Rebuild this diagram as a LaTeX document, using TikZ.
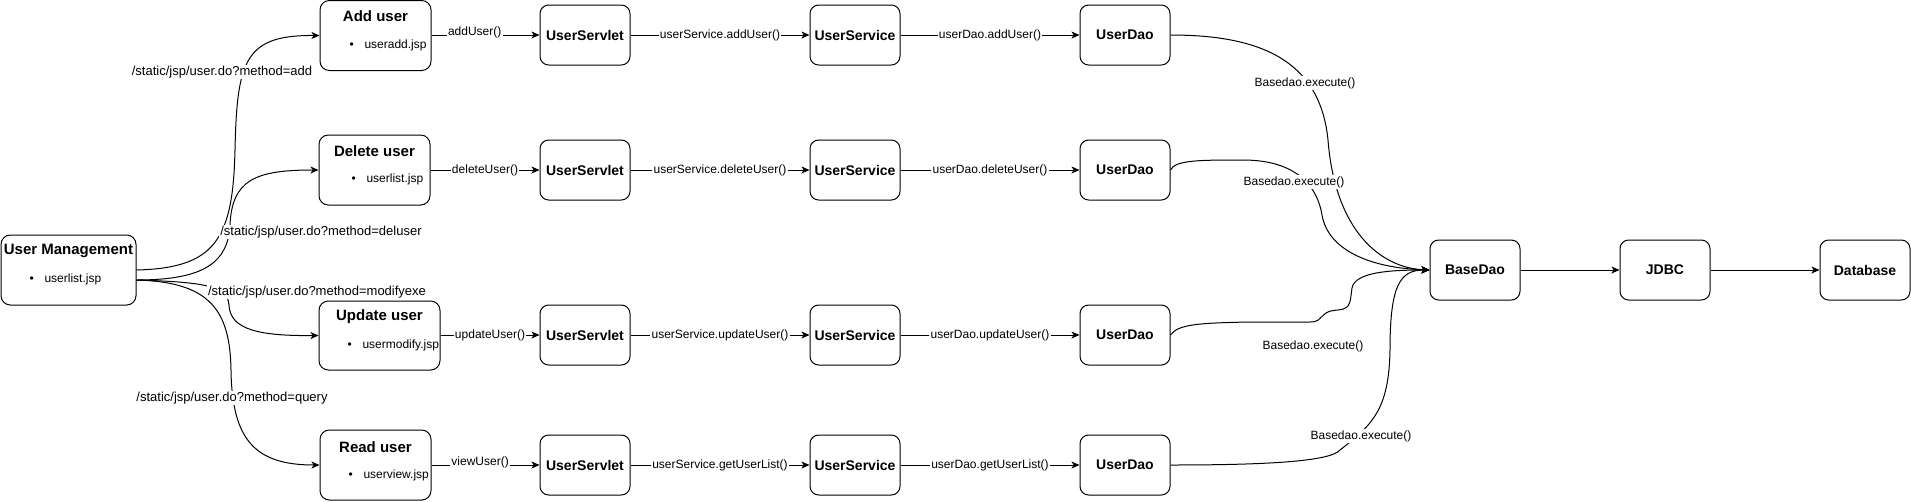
\documentclass[tikz,border=0pt]{standalone}
\usepackage{fontspec}
\setmainfont{Liberation Sans}
\usetikzlibrary{arrows.meta}
\begin{document}
\begin{tikzpicture}[x=0.75pt,y=-0.75pt,
  line width=0.75pt,
  box/.style={draw,line width=0.75pt,rounded corners=6.5pt,inner sep=0pt,
    font=\fontsize{10.5}{12}\selectfont\bfseries},
  midbox/.style={box,minimum width=67.5pt,minimum height=45pt},
  listbox/.style={draw,line width=0.75pt,rounded corners=7pt,inner sep=0pt},
  ltitle/.style={inner sep=0pt,font=\fontsize{11.25}{13}\selectfont\bfseries},
  litem/.style={inner sep=0pt,anchor=west,font=\fontsize{9}{11}\selectfont},
  lbl/.style={fill=white,inner sep=1pt,font=\fontsize{9}{11}\selectfont},
  plbl/.style={lbl,font=\fontsize{9.75}{11}\selectfont},
  arr/.style={-{Stealth[length=6pt,width=5.2pt,inset=1.6pt]},line width=0.75pt}
]
\useasboundingbox (0,0) rectangle (1911,501);
\fill[white] (0,0) rectangle (1911,501);

% ---- first column: user management
\node[listbox,minimum width=101.25pt,minimum height=52.5pt] (um) at (68.5,270) {};
\node[ltitle] (umT) at (68.5,251) {User Management};
\node[litem] (umB) at (29,279) {\textbullet\hspace{8.1pt}userlist.jsp};

% ---- second column: list boxes
\node[listbox,minimum width=83.25pt,minimum height=52.5pt] (add) at (375.5,35.5) {};
\node[ltitle] (addT) at (375.5,16.5) {Add user};
\node[litem] (addB) at (349,45) {\textbullet\hspace{8.1pt}useradd.jsp};

\node[listbox,minimum width=83.25pt,minimum height=52.5pt] (del) at (374.5,170) {};
\node[ltitle] (delT) at (374.5,151) {Delete user};
\node[litem] (delB) at (351,179) {\textbullet\hspace{8.1pt}userlist.jsp};

\node[listbox,minimum width=90.75pt,minimum height=51.75pt] (upd) at (379.5,335.5) {};
\node[ltitle] (updT) at (379.5,317) {Update user};
\node[litem] (updB) at (347,345) {\textbullet\hspace{8.1pt}usermodify.jsp};

\node[listbox,minimum width=83.25pt,minimum height=52.5pt] (read) at (375.5,465) {};
\node[ltitle] (readT) at (375.5,447) {Read user};
\node[litem] (readB) at (348,475) {\textbullet\hspace{8.1pt}userview.jsp};

% ---- middle columns
\foreach \r/\yy in {1/35,2/170,3/335,4/465}{
  \node[midbox] (sv\r) at (585,\yy) {UserServlet};
  \node[midbox] (se\r) at (855,\yy) {UserService};
  \node[midbox] (ud\r) at (1125,\yy) {UserDao};
}
\node[midbox] (bd) at (1475,270) {BaseDao};
\node[midbox] (jdbc) at (1665,270) {JDBC};
\node[midbox] (db) at (1865,270) {Database};

% ---- edges from user management
\coordinate (um2) at ([yshift=-7.5pt]um.east);
\draw[arr] (um.east) .. controls (215,268) and (233,240) .. (235,150)
  .. controls (237,60) and (245,35) .. (add.west);
\draw[arr] (um2) .. controls (205,280) and (228,262) .. (230,225)
  .. controls (232,180) and (255,170) .. (del.west);
\draw[arr] (um2) .. controls (200,282) and (228,285) .. (229,305)
  .. controls (230,330) and (260,336) .. (upd.west);
\draw[arr] (um2) .. controls (210,282) and (230,310) .. (231,370)
  .. controls (232,440) and (255,465) .. (read.west);

\node[plbl] (l1) at (222,72) {/static/jsp/user.do?method=add};
\node[plbl] (l2) at (321,232) {/static/jsp/user.do?method=deluser};
\node[plbl] (l3) at (317,292) {/static/jsp/user.do?method=modifyexe};
\node[plbl] (l4) at (232,398) {/static/jsp/user.do?method=query};

% ---- straight edges
\draw[arr] (sv1.west -| add.east) -- node[lbl,yshift=2pt,pos=0.4]{addUser()} (sv1.west);
\draw[arr] (sv2.west -| del.east) -- node[lbl]{deleteUser()} (sv2.west);
\draw[arr] (sv3.west -| upd.east) -- node[lbl]{updateUser()} (sv3.west);
\draw[arr] (sv4.west -| read.east) -- node[lbl,yshift=2pt,pos=0.45]{viewUser()} (sv4.west);

\draw[arr] (sv1) -- node[lbl]{userService.addUser()} (se1);
\draw[arr] (sv2) -- node[lbl]{userService.deleteUser()} (se2);
\draw[arr] (sv3) -- node[lbl]{userService.updateUser()} (se3);
\draw[arr] (sv4) -- node[lbl]{userService.getUserList()} (se4);

\draw[arr] (se1) -- node[lbl]{userDao.addUser()} (ud1);
\draw[arr] (se2) -- node[lbl]{userDao.deleteUser()} (ud2);
\draw[arr] (se3) -- node[lbl]{userDao.updateUser()} (ud3);
\draw[arr] (se4) -- node[lbl]{userDao.getUserList()} (ud4);

\draw[arr] (bd) -- (jdbc);
\draw[arr] (jdbc) -- (db);

% ---- dao to basedao
\draw[arr] (ud1.east) .. controls (1260,35) and (1320,60) .. (1328,140)
  .. controls (1335,230) and (1380,268) .. (bd.west);
\draw[arr] (ud2.east) .. controls (1175,160) and (1200,160) .. (1243,160)
  .. controls (1300,160) and (1318,190) .. (1322,215)
  .. controls (1328,250) and (1370,268) .. (bd.west);
\draw[arr] (ud3.east) .. controls (1178,324) and (1200,323) .. (1250,322)
  -- (1310,322) .. controls (1325,322) and (1318,311) .. (1338,310)
  .. controls (1352,309) and (1350,300) .. (1352,288)
  .. controls (1355,272) and (1390,270) .. (bd.west);
\draw[arr] (ud4.east) .. controls (1260,465) and (1330,462) .. (1340,450)
  .. controls (1372,425) and (1389,410) .. (1390,350)
  .. controls (1390,285) and (1400,270) .. (bd.west);

\node[lbl] (b1) at (1305,83) {Basedao.execute()};
\node[lbl] (b2) at (1294,182) {Basedao.execute()};
\node[lbl] (b3) at (1313,346) {Basedao.execute()};
\node[lbl] (b4) at (1361,436) {Basedao.execute()};
\end{tikzpicture}
\end{document}
